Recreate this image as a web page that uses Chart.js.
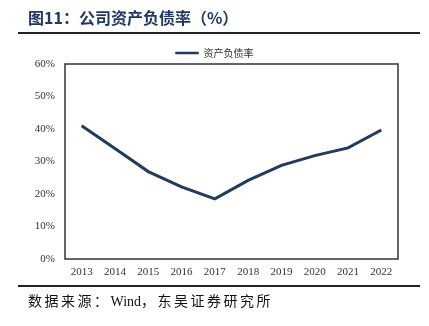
<!DOCTYPE html>
<html>
<head>
<meta charset="utf-8">
<script src="https://cdn.jsdelivr.net/npm/chart.js@4.4.1/dist/chart.umd.min.js"></script>
<style>
  html, body { margin: 0; padding: 0; background: #fff; }
  #wrap { position: relative; width: 429px; height: 326px; overflow: hidden; }
  #chart { position: absolute; left: 0; top: 0; }
  .title {
    position: absolute; left: 28px; top: 6px;
    font-family: "Noto Sans CJK SC", sans-serif; font-weight: bold;
    font-size: 16px; color: #1f3864; line-height: 22px; white-space: nowrap;
  }
  .rule { position: absolute; left: 18px; width: 402px; height: 2px; background: #222; }
  .source {
    position: absolute; left: 28px; top: 290px;
    font-family: "Liberation Serif", "Noto Sans CJK SC", serif;
    font-size: 14px; color: #111; line-height: 20px; white-space: nowrap;
  }
  .cjk { font-family: "Noto Sans CJK SC", sans-serif; letter-spacing: 2.5px; }
</style>
</head>
<body>
<div id="wrap">
  <canvas id="chart" width="429" height="326"></canvas>
  <div class="title">图11：公司资产负债率（%）</div>
  <div class="rule" style="top:32px"></div>
  <div class="rule" style="top:285px"></div>
  <div class="source"><span class="cjk">数据来源：</span>Wind<span class="cjk">，东吴证券研究所</span></div>
</div>
<script>
// ===============================
// 公司资产负债率
// ===============================

let years = ["2013", "2014", "2015", "2016", "2017", "2018", "2019", "2020", "2021", "2022"];

let debtRatio = [41.0, 34.0, 26.9, 22.2, 18.5, 24.2, 28.8, 31.8, 34.2, 39.7];

let seriesName = "资产负债率";

let lineColor = "#1f3b60";

// box around the plot area
let frameBox = {
    id: "frameBox",
    afterDraw(chart) {
        let a = chart.chartArea;
        let ctx = chart.ctx;
        ctx.save();
        ctx.strokeStyle = "#333";
        ctx.lineWidth = 1.5;
        ctx.strokeRect(a.left, a.top, a.right - a.left, a.bottom - a.top);
        ctx.restore();
    }
};

// push the legend down a little without moving the plot
let legendNudge = {
    id: "legendNudge",
    afterLayout(chart) {
        if (!chart.legend) return;
        chart.legend.top += 4;
        chart.legend.bottom += 4;
    }
};

let ctx = document.getElementById("chart").getContext("2d");

new Chart(ctx, {
    type: "line",
    data: {
        labels: years,
        datasets: [{
            label: seriesName,
            data: debtRatio,
            borderColor: lineColor,
            backgroundColor: lineColor,
            borderWidth: 3,
            pointRadius: 0,
            tension: 0
        }]
    },
    options: {
        responsive: false,
        animation: false,
        layout: {
            padding: { top: 34, right: 31, left: 31, bottom: 0 }
        },
        plugins: {
            legend: {
                display: true,
                labels: {
                    boxWidth: 23,
                    boxHeight: 2,
                    padding: 10,
                    color: "#333",
                    font: { family: "Noto Sans CJK SC", size: 10 },
                    generateLabels(chart) {
                        let items = Chart.defaults.plugins.legend.labels.generateLabels(chart);
                        items.forEach((item) => { item.lineWidth = 0.5; });
                        return items;
                    }
                }
            },
            tooltip: { enabled: false }
        },
        scales: {
            x: {
                offset: true,
                grid: { display: false, drawTicks: false },
                border: { display: false },
                ticks: {
                    padding: 7,
                    color: "#333",
                    font: { family: "Liberation Serif", size: 11 }
                },
                afterFit(scale) { scale.height = 67; }
            },
            y: {
                min: 0,
                max: 60,
                grid: { display: false, drawTicks: false },
                border: { display: false },
                ticks: {
                    stepSize: 10,
                    padding: 10,
                    color: "#333",
                    font: { family: "Liberation Serif", size: 11 },
                    callback: (v) => v + "%"
                },
                afterFit(scale) { scale.width = 34; }
            }
        }
    },
    plugins: [frameBox, legendNudge]
});
</script>
</body>
</html>
